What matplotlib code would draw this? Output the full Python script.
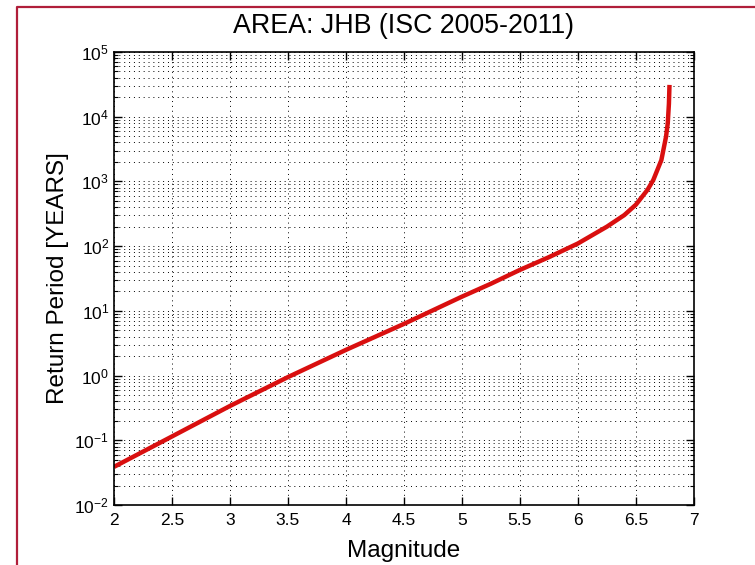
import matplotlib
matplotlib.use("Agg")
import matplotlib.pyplot as plt
from matplotlib.lines import Line2D
from matplotlib.ticker import LogLocator, NullFormatter

plt.rcParams['font.family'] = ['Liberation Sans', 'DejaVu Sans']
plt.rcParams['mathtext.fontset'] = 'custom'
plt.rcParams['mathtext.rm'] = 'Liberation Sans'
plt.rcParams['mathtext.default'] = 'regular'

# values
magnitude = [2.0, 2.5, 3.0, 3.5, 4.0, 4.5, 5.0, 5.25, 5.5, 5.75, 6.0, 6.25, 6.4, 6.5,
             6.6, 6.65, 6.72, 6.76, 6.775, 6.785, 6.79]
return_period = [0.039, 0.115, 0.34, 0.95, 2.5, 6.3, 16.6, 26.3, 43, 67.6, 110, 200, 302, 437,
                 740, 1050, 2140, 4900, 7900, 15800, 31000]

xticks = [2, 2.5, 3, 3.5, 4, 4.5, 5, 5.5, 6, 6.5, 7]
xticklabels = ['2', '2.5', '3', '3.5', '4', '4.5', '5', '5.5', '6', '6.5', '7']

title = 'AREA: JHB (ISC 2005-2011)'
xlabel = 'Magnitude'
ylabel = 'Return Period [YEARS]'

fig = plt.figure(figsize=(7.55, 5.65), dpi=100)
ax = fig.add_axes([0.151, 0.106, 0.768, 0.802])

ax.semilogy(magnitude, return_period, color='#d90f0f', linewidth=3.2, solid_capstyle='butt')

ax.set_xlim(2, 7)
ax.set_ylim(1e-2, 1e5)
ax.set_xticks(xticks)
ax.set_xticklabels(xticklabels)
ax.yaxis.set_major_locator(LogLocator(base=10, numticks=10))
ax.yaxis.set_minor_locator(LogLocator(base=10, subs=range(2, 10), numticks=100))
ax.yaxis.set_minor_formatter(NullFormatter())

ax.tick_params(which='both', direction='in', top=True, right=True, labelsize=12.5, color='black')
ax.tick_params(which='major', length=6, width=1)
ax.tick_params(which='minor', length=3, width=0.8)
ax.tick_params(axis='x', pad=6)

ax.grid(True, which='major', color='black', linestyle=(0, (1, 4)), linewidth=0.7)
ax.grid(True, which='minor', axis='y', color='black', linestyle=(0, (1, 4)), linewidth=0.7)
ax.set_axisbelow(True)

for s in ax.spines.values():
    s.set_linewidth(1.2)

ax.set_title(title, fontsize=19.3, pad=14)
ax.set_xlabel(xlabel, fontsize=17.5, labelpad=8)
ax.set_ylabel(ylabel, fontsize=17.5, labelpad=4)

# dark red frame round the picture (left and top edges visible)
bx, by = 16.5 / 755, 1 - 6.5 / 565
fig.add_artist(Line2D([bx, bx, 1.0], [0.0, by, by], transform=fig.transFigure,
                      color='#b01e3a', linewidth=1.6))

fig.savefig('out.png', dpi=100, facecolor='white')
